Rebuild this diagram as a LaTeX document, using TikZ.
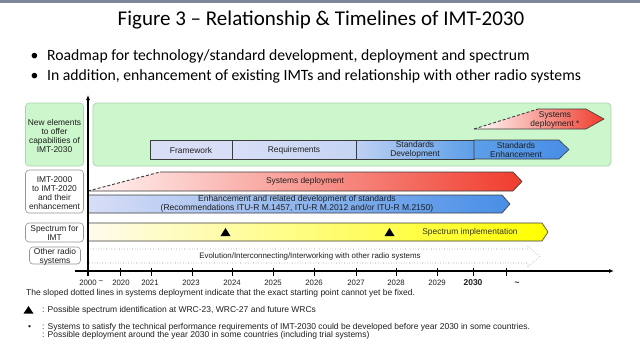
\documentclass[tikz,border=0pt]{standalone}
\usepackage{fontspec}
\setmainfont{Liberation Sans}
\newfontfamily\calib{Carlito}
\usetikzlibrary{arrows.meta}
\definecolor{topbar}{RGB}{125,135,152}
\definecolor{greenfill}{RGB}{204,246,204}
\definecolor{greenedge}{RGB}{172,212,178}
\definecolor{lav}{RGB}{216,222,246}
\definecolor{blueA}{RGB}{92,158,232}
\definecolor{blueB}{RGB}{72,142,230}
\definecolor{redA}{RGB}{240,60,45}
\definecolor{yel}{RGB}{255,255,0}
\definecolor{cream}{RGB}{255,251,238}
\definecolor{edge}{RGB}{60,60,60}
\definecolor{txt}{RGB}{30,30,30}
\definecolor{labedge}{RGB}{150,150,150}
\begin{document}
\begin{tikzpicture}[x=1pt,y=-1pt,
  small/.style={font=\fontsize{8.4}{9}\selectfont, text=txt, inner sep=0pt, align=center},
  labbox/.style={draw=labedge, line width=0.6pt, rounded corners=3.5pt, fill=white},
  barline/.style={draw=edge, line width=0.6pt},
  ticklab/.style={font=\fontsize{7.8}{8}\selectfont, text=txt, inner sep=0pt},
  note/.style={font=\fontsize{8.5}{8}\selectfont, text=txt, inner sep=0pt, anchor=west},
  bul/.style={font=\calib\fontsize{15.7}{18}\selectfont, inner sep=0pt, anchor=west},
  axisline/.style={line width=1.1pt, black, -{Latex[length=5pt,width=4pt]}},
  tickmark/.style={line width=1pt, black}
]
\useasboundingbox (0,0) rectangle (640,346);
\fill[white] (0,0) rectangle (640,346);
\fill[topbar] (0,0) rectangle (640,2.5);

% title and bullets
\node[font=\calib\fontsize{21}{24}\selectfont, inner sep=0pt] (title) at (321,20) {Figure 3 \textendash{} Relationship \& Timelines of IMT-2030};
\node[bul] (d1) at (30.5,56.5) {\textbullet};
\node[bul] (b1) at (47,56.5) {Roadmap for technology/standard development, deployment and spectrum};
\node[bul] (d2) at (30.5,76.5) {\textbullet};
\node[bul] (b2) at (47,76.5) {In addition, enhancement of existing IMTs and relationship with other radio systems};

% left labels
\draw[labbox, draw=greenedge, fill=greenfill] (25.5,103) rectangle (83.5,166);
\node[small] (l1) at (54.5,135.5) {New elements\\to offer\\capabilities of\\IMT-2030};
\draw[labbox] (25.5,170) rectangle (83.5,213);
\node[small] (l2) at (54.5,193) {IMT-2000\\to IMT-2020\\and their\\enhancement};
\draw[labbox] (25.5,223) rectangle (83.5,242);
\node[small] (l3) at (54.5,232.5) {Spectrum for\\IMT};
\draw[labbox] (29.5,247) rectangle (80.5,264);
\node[small] (l4) at (55,256.5) {Other radio\\systems};

% green area
\draw[draw=greenedge, fill=greenfill, line width=0.8pt, rounded corners=4pt] (93,103) rectangle (611,166);

% standards row
\path[barline, fill=lav] (150,140) rectangle (232,159);
\node[small] (fw) at (191,150) {Framework};
\path[barline, left color=lav, right color=lav!85!blueA] (232,140) rectangle (356,159);
\node[small] (rq) at (294,150) {Requirements};
\path[barline, left color=lav!80!blueA, right color=blueA] (356,140) rectangle (474,159);
\node[small] (sd) at (415,150) {Standards\\Development};
\path[barline, left color=blueA, right color=blueB] (474,140) -- (559,140) -- (569,149.5) -- (559,159) -- (474,159) -- cycle;
\node[small] (se) at (516,150) {Standards\\Enhancement};

% systems deployment *
\shade[left color=white, right color=redA] (474,129) -- (538,109) -- (586,109) -- (604,119) -- (586,129) -- cycle;
\draw[edge, line width=0.9pt, dash pattern=on 3pt off 2pt] (474,129) -- (538,109);
\draw[barline] (538,109) -- (586,109) -- (604,119) -- (586,129) -- (474,129);
\node[small] (sd2) at (555,119.5) {Systems\\deployment *};

% systems deployment row
\shade[left color=red!4, right color=redA] (88,191) -- (160,172) -- (513,172) -- (522,181.5) -- (513,191) -- cycle;
\draw[edge, line width=0.9pt, dash pattern=on 3pt off 2pt] (88,191) -- (160,172);
\draw[barline] (160,172) -- (513,172) -- (522,181.5) -- (513,191) -- (88,191);
\node[small] (sysd) at (305,181.5) {Systems deployment};

% enhancement row
\path[barline, left color=lav, right color=blueB] (88,195) -- (502,195) -- (510,204) -- (502,213) -- (88,213) -- cycle;
\node[small, font=\fontsize{8.5}{8.6}\selectfont] (enh) at (297,203.5) {Enhancement and related development of standards\\(Recommendations ITU-R M.1457, ITU-R M.2012 and/or ITU-R M.2150)};

% spectrum row
\path[barline, left color=cream, right color=yel] (88,223) -- (542,223) -- (548,232) -- (542,241) -- (88,241) -- cycle;
\node[small, text=black!80] (spi) at (470,232) {Spectrum implementation};
\fill[black] (220.5,236) -- (225.5,228) -- (230.5,236) -- cycle;
\fill[black] (384.5,236) -- (389.5,228) -- (394.5,236) -- cycle;

% other radio row
\draw[draw=black!45, line width=0.6pt, dotted, fill=white] (88,249) -- (528,249) -- (528,246.5) -- (540,256.5) -- (528,266.5) -- (528,263) -- (88,263);
\node[small, font=\fontsize{7.9}{9}\selectfont] (evo) at (310,256.5) {Evolution/Interconnecting/Interworking with other radio systems};

% axes
\coordinate (yb) at (88,276);
\coordinate (yt) at (88,95);
\coordinate (xl) at (75,271);
\coordinate (xr) at (614,271);
\draw[axisline] (yb) -- (yt);
\draw[axisline] (xl) -- (xr);
\foreach \x in {120,151,192,232,273,314,356,396,437,473,506} {
  \draw[tickmark] (\x,268) -- (\x,276);
}
\node[ticklab] (t2000) at (88,282.5) {2000};
\node[ticklab] (tt1) at (101,281.5) {\textasciitilde};
\node[ticklab] (t2020) at (121,282.5) {2020};
\node[ticklab] (t2021) at (150,282.5) {2021};
\node[ticklab] (t2023) at (191,282.5) {2023};
\node[ticklab] (t2024) at (232,282.5) {2024};
\node[ticklab] (t2025) at (273,282.5) {2025};
\node[ticklab] (t2026) at (314,282.5) {2026};
\node[ticklab] (t2027) at (356,282.5) {2027};
\node[ticklab] (t2028) at (396,282.5) {2028};
\node[ticklab] (t2029) at (437,282.5) {2029};
\node[ticklab, font=\bfseries\fontsize{8.5}{9}\selectfont] (t2030) at (473,282.5) {2030};
\node[ticklab, font=\bfseries\fontsize{8.5}{9}\selectfont] (tt2) at (517,283.5) {\textasciitilde};

% notes
\node[note] (n1) at (26,293.5) {The sloped dotted lines in systems deployment indicate that the exact starting point cannot yet be fixed.};
\fill[black] (23.5,313.5) -- (28.5,306) -- (33.5,313.5) -- cycle;
\node[note] (n2) at (42,310.5) {: Possible spectrum identification at WRC-23, WRC-27 and future WRCs};
\node[note] (n3b) at (28,327.5) {\textbullet};
\node[note] (n3) at (42,327.5) {: Systems to satisfy the technical performance requirements of IMT-2030 could be developed before year 2030 in some countries.};
\node[note] (n4) at (42,335.5) {: Possible deployment around the year 2030 in some countries (including trial systems)};
\end{tikzpicture}
\end{document}
